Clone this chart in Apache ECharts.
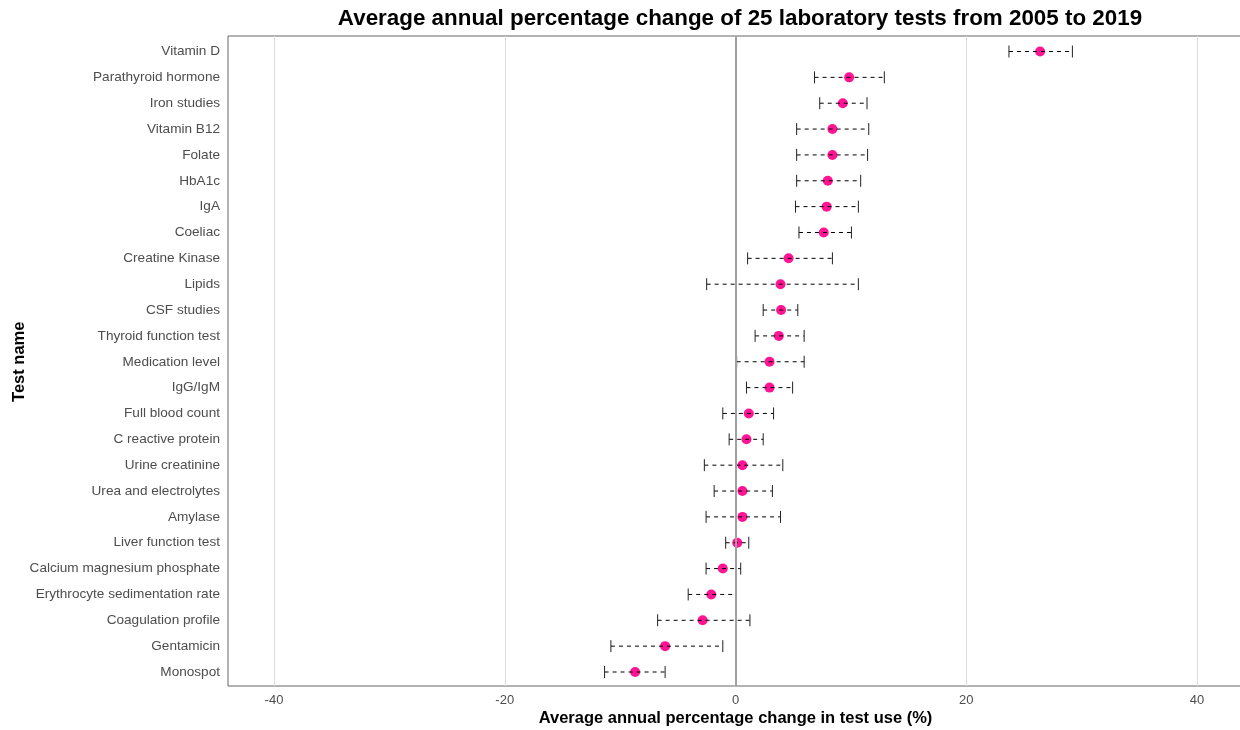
<!DOCTYPE html>
<html>
<head>
<meta charset="utf-8">
<script src="https://cdn.jsdelivr.net/npm/echarts@6/dist/echarts.min.js"></script>
<style>
  html, body { margin: 0; padding: 0; background: #fff; }
  #chart-container { width: 1240px; height: 730px; }
</style>
</head>
<body>
<div id="chart-container"></div>
<script>
// tests, top to bottom
var tests = [
  'Vitamin D', 'Parathyroid hormone', 'Iron studies', 'Vitamin B12', 'Folate',
  'HbA1c', 'IgA', 'Coeliac', 'Creatine Kinase', 'Lipids', 'CSF studies',
  'Thyroid function test', 'Medication level', 'IgG/IgM', 'Full blood count',
  'C reactive protein', 'Urine creatinine', 'Urea and electrolytes', 'Amylase',
  'Liver function test', 'Calcium magnesium phosphate',
  'Erythrocyte sedimentation rate', 'Coagulation profile', 'Gentamicin', 'Monospot'
];
// average annual % change (point estimate)
var estimate = [
  26.4, 9.85, 9.3, 8.4, 8.4, 8.0, 7.9, 7.65, 4.6, 3.9, 3.95, 3.75, 2.95, 2.95,
  1.15, 0.95, 0.6, 0.6, 0.6, 0.15, -1.1, -2.1, -2.85, -6.1, -8.7
];
// lower and upper limits
var lower = [
  23.7, 6.85, 7.3, 5.3, 5.3, 5.3, 5.2, 5.5, 1.05, -2.5, 2.4, 1.7, 0.1, 0.95,
  -1.1, -0.55, -2.7, -1.85, -2.55, -0.85, -2.55, -4.1, -6.75, -10.8, -11.35
];
var upper = [
  29.2, 12.9, 11.4, 11.55, 11.45, 10.85, 10.65, 10.05, 8.4, 10.65, 5.4, 5.95,
  5.95, 4.95, 3.3, 2.4, 4.1, 3.2, 3.9, 1.15, 0.45, 0.0, 1.25, -1.1, -6.1
];
var xTicks = [-40, -20, 0, 20, 40];

var dom = document.getElementById('chart-container');
var myChart = echarts.init(dom, null, { renderer: 'canvas' });

var barData = tests.map(function (t, i) { return [i, lower[i], upper[i]]; });
var pointData = tests.map(function (t, i) { return [estimate[i], i]; });

var option = {
  animation: false,
  backgroundColor: '#ffffff',
  textStyle: { fontFamily: 'Liberation Sans, Arial, sans-serif' },
  title: {
    text: 'Average annual percentage change of 25 laboratory tests from 2005 to 2019',
    left: 735,
    textAlign: 'center',
    top: 3,
    textStyle: { color: '#000', fontSize: 22.4, fontWeight: 'bold' }
  },
  grid: [
    // panel frame
    { left: 228, right: -3, top: 36, bottom: 44, show: true, borderColor: '#666', borderWidth: 1,
      outerBoundsMode: 'none' },
    // x scale with gridlines
    { left: 274, right: 43, top: 36, bottom: 44, outerBoundsMode: 'none' },
    // data rows
    { left: 274, right: 43, top: 51.5, bottom: 58, outerBoundsMode: 'none' }
  ],
  xAxis: [
    { gridIndex: 0, type: 'value', show: false, min: 0, max: 1 },
    {
      gridIndex: 1, type: 'value', min: xTicks[0], max: xTicks[xTicks.length - 1], interval: 20,
      name: 'Average annual percentage change in test use (%)',
      nameLocation: 'middle', nameGap: 24, nameMoveOverlap: false,
      nameTextStyle: { color: '#000', fontSize: 16.5, fontWeight: 'bold' },
      axisLine: { show: false },
      axisTick: { show: false },
      axisLabel: { color: '#4d4d4d', fontSize: 13, margin: 8 },
      splitLine: { show: true, lineStyle: { color: '#dcdcdc', width: 1 } }
    },
    { gridIndex: 2, type: 'value', show: false, min: -40, max: 40 }
  ],
  yAxis: [
    { gridIndex: 0, type: 'value', show: false, min: 0, max: 1 },
    { gridIndex: 1, type: 'value', show: false, min: 0, max: 1 },
    {
      gridIndex: 2, type: 'category', data: tests, inverse: true, boundaryGap: false,
      name: 'Test name', nameLocation: 'middle', nameGap: 246, nameRotate: 90,
      nameMoveOverlap: false,
      nameTextStyle: { color: '#000', fontSize: 16.5, fontWeight: 'bold' },
      axisLine: { show: false },
      axisTick: { show: false },
      splitLine: { show: false },
      axisLabel: { color: '#4d4d4d', fontSize: 13.6, margin: 54, interval: 0 }
    }
  ],
  series: [
    {
      // zero reference line
      type: 'scatter', xAxisIndex: 1, yAxisIndex: 1, data: [], silent: true,
      markLine: {
        silent: true, symbol: 'none', label: { show: false },
        lineStyle: { color: '#a0a0a0', width: 2, type: 'solid' },
        data: [{ xAxis: 0 }]
      }
    },
    {
      type: 'scatter', xAxisIndex: 2, yAxisIndex: 2, data: pointData,
      symbol: 'circle', symbolSize: 10, z: 3,
      itemStyle: { color: '#ff1493', opacity: 1 }
    },
    {
      type: 'custom', xAxisIndex: 2, yAxisIndex: 2, data: barData, z: 4,
      encode: { y: 0, x: [1, 2] },
      renderItem: function (params, api) {
        var row = api.value(0);
        var a = api.coord([api.value(1), row]);
        var b = api.coord([api.value(2), row]);
        var h = 6;
        return {
          type: 'group',
          children: [
            { type: 'line', shape: { x1: a[0], y1: a[1], x2: b[0], y2: b[1] },
              style: { stroke: '#000', lineWidth: 1, lineDash: [4, 4] } },
            { type: 'line', shape: { x1: a[0], y1: a[1] - h, x2: a[0], y2: a[1] + h },
              style: { stroke: '#222', lineWidth: 1 } },
            { type: 'line', shape: { x1: b[0], y1: b[1] - h, x2: b[0], y2: b[1] + h },
              style: { stroke: '#222', lineWidth: 1 } }
          ]
        };
      }
    }
  ]
};

myChart.setOption(option);
window.addEventListener('resize', myChart.resize);
</script>
</body>
</html>
